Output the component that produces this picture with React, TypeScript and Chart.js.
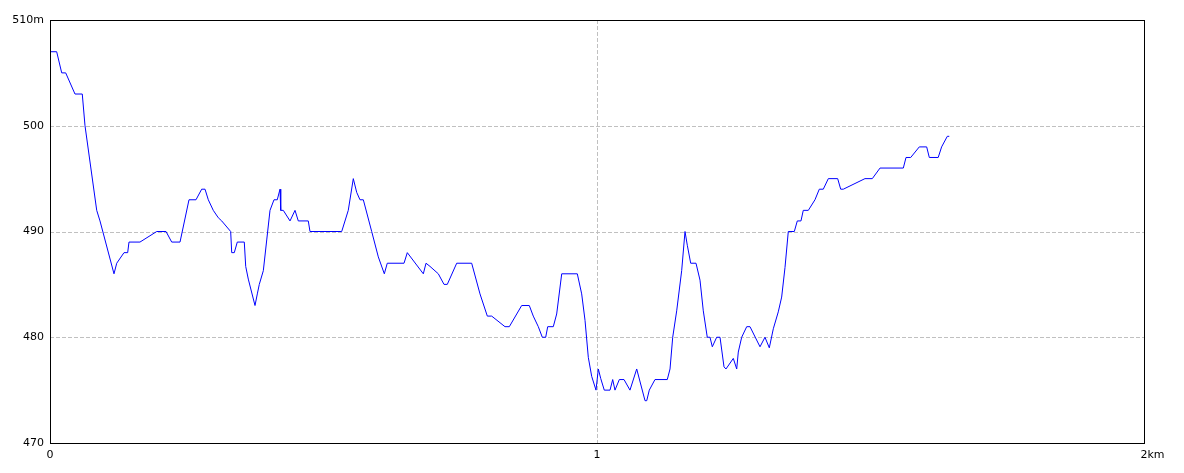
import React, { useEffect, useRef } from "react";
import { Chart, registerables } from "chart.js";

Chart.register(...registerables);

// Distance along the route (km)
const distanceKm: number[] = [
  0, 0.0122, 0.0214, 0.0287, 0.0457, 0.059, 0.064, 0.0854, 0.0914, 0.117,
  0.122, 0.1353, 0.142, 0.1444, 0.1645, 0.1951, 0.2121, 0.2225, 0.2377, 0.2541,
  0.2669, 0.2773, 0.2834, 0.2894, 0.2985, 0.3077, 0.3139, 0.3303, 0.3322, 0.3369,
  0.3424, 0.3552, 0.3578, 0.3625, 0.3748, 0.379, 0.3826, 0.39, 0.3962, 0.4022,
  0.4095, 0.4155, 0.4205, 0.4218, 0.4265, 0.4388, 0.4479, 0.4539, 0.4722, 0.4753,
  0.5333, 0.5453, 0.5545, 0.5607, 0.5667, 0.5728, 0.5881, 0.6002, 0.6112, 0.6166,
  0.6472, 0.6532, 0.6825, 0.6874, 0.6947, 0.7099, 0.7203, 0.7263, 0.7435, 0.7709,
  0.7861, 0.7995, 0.8075, 0.8318, 0.8397, 0.8623, 0.8762, 0.8835, 0.8927, 0.9,
  0.9062, 0.9099, 0.9201, 0.9263, 0.9355, 0.964, 0.972, 0.9781, 0.9841, 0.9903,
  0.9982, 1.0024, 1.0068, 1.0133, 1.0238, 1.0287, 1.0329, 1.0408, 1.0494, 1.0603,
  1.0726, 1.0878, 1.0909, 1.0956, 1.106, 1.1285, 1.1335, 1.1384, 1.1457, 1.1548,
  1.1609, 1.1651, 1.1713, 1.181, 1.1883, 1.1943, 1.2016, 1.2066, 1.2108, 1.2188,
  1.2249, 1.2322, 1.2358, 1.2492, 1.2554, 1.2583, 1.2645, 1.2737, 1.2797, 1.298,
  1.3071, 1.315, 1.3223, 1.3314, 1.3376, 1.3437, 1.3497, 1.3607, 1.3662, 1.3729,
  1.3771, 1.3863, 1.3985, 1.4064, 1.4137, 1.4229, 1.44, 1.4455, 1.4503, 1.4899,
  1.5033, 1.5174, 1.56, 1.5649, 1.5735, 1.5892, 1.6027, 1.6075, 1.6238, 1.63,
  1.6404, 1.644,
];

// Elevation (m)
const elevationM: number[] = [
  507, 507, 505, 505, 503, 503, 500, 492, 491, 486,
  487, 488, 488, 489, 489, 490, 490, 489, 489, 493,
  493, 494, 494, 493, 492, 491.3, 491, 490, 488, 488,
  489, 489, 486.7, 485.5, 483, 484.1, 485, 486.3, 489.2, 492,
  493, 493, 494, 492, 492, 491, 492, 491, 491, 490,
  490, 492, 495, 493.7, 493, 493, 490, 487.6, 486, 487,
  487, 488, 486, 487, 486.7, 486, 485, 485, 487, 487,
  484.1, 482, 482, 481, 481, 483, 483, 482, 481, 480,
  480, 481, 481, 482.2, 486, 486, 484.1, 481.6, 478.1, 476.3,
  475, 477, 476.1, 475, 475, 476, 475, 476, 476, 475,
  477, 474, 474, 475, 476, 476, 477, 480, 482.5, 486.3,
  490, 488.7, 487, 487, 485.4, 482.5, 480, 480, 479.1, 480,
  480, 477.2, 477, 478, 477, 478.6, 480, 481, 481, 479.1,
  480, 479, 480.8, 482.4, 483.8, 486.6, 490, 490, 491, 491,
  492, 492, 493, 494, 494, 495, 495, 494, 494, 495,
  495, 496, 496, 497, 497, 498, 498, 497, 497, 498,
  499, 499,
];

const yTickValues: number[] = [470, 480, 490, 500, 510];
const yTickLabels: string[] = ["470", "480", "490", "500", "510m"];
const xTickValues: number[] = [0, 1, 2];
const xTickNumbers: string[] = ["0", "1", "2"];
const xTickUnits: string[] = ["", "", "km"];

const FONT = '11px "DejaVu Sans", "Noto Sans CJK JP", sans-serif';

const framePlugin = {
  id: "frame",
  beforeDatasetsDraw(chart: any) {
    const { ctx, chartArea, scales } = chart;
    const xs = scales.x;
    const ys = scales.y;
    ctx.save();
    ctx.strokeStyle = "#c0c0c0";
    ctx.lineWidth = 1;
    ctx.setLineDash([4, 2]);
    yTickValues.forEach((v) => {
      if (v === 470 || v === 510) return;
      const y = Math.round(ys.getPixelForValue(v)) + 0.5;
      ctx.beginPath();
      ctx.moveTo(chartArea.left, y);
      ctx.lineTo(chartArea.right, y);
      ctx.stroke();
    });
    xTickValues.forEach((v) => {
      if (v === 0 || v === 2) return;
      const x = Math.round(xs.getPixelForValue(v)) + 0.5;
      ctx.beginPath();
      ctx.moveTo(x, chartArea.top);
      ctx.lineTo(x, chartArea.bottom);
      ctx.stroke();
    });
    ctx.restore();
  },
  afterDraw(chart: any) {
    const { ctx, chartArea, scales } = chart;
    const xs = scales.x;
    const ys = scales.y;
    ctx.save();
    ctx.setLineDash([]);
    ctx.strokeStyle = "#000000";
    ctx.lineWidth = 1;
    ctx.strokeRect(
      chartArea.left + 0.5,
      chartArea.top + 0.5,
      chartArea.right - chartArea.left,
      chartArea.bottom - chartArea.top
    );
    ctx.fillStyle = "#000000";
    ctx.font = FONT;
    ctx.textAlign = "right";
    ctx.textBaseline = "middle";
    yTickValues.forEach((v, i) => {
      const y = ys.getPixelForValue(v);
      ctx.fillText(yTickLabels[i], chartArea.left - 6, y);
    });
    ctx.textAlign = "left";
    ctx.textBaseline = "top";
    xTickValues.forEach((v, i) => {
      const x = xs.getPixelForValue(v);
      const num = xTickNumbers[i];
      const w = ctx.measureText(num).width;
      ctx.fillText(num + xTickUnits[i], x - w / 2, chartArea.bottom + 7);
    });
    ctx.restore();
  },
};

export default function App() {
  const canvasRef = useRef<HTMLCanvasElement | null>(null);

  useEffect(() => {
    if (!canvasRef.current) return;
    const points = distanceKm.map((d, i) => ({ x: d, y: elevationM[i] }));
    const chart = new Chart(canvasRef.current, {
      type: "line",
      data: {
        datasets: [
          {
            data: points,
            borderColor: "#0000ff",
            borderWidth: 1,
            pointRadius: 0,
            tension: 0,
            fill: false,
          },
        ],
      },
      options: {
        animation: false,
        responsive: false,
        maintainAspectRatio: false,
        layout: { padding: { left: 50, right: 40, top: 20, bottom: 30 } },
        plugins: {
          legend: { display: false },
          tooltip: { enabled: false },
          title: { display: false },
        },
        scales: {
          x: { type: "linear", min: 0, max: 2, display: false },
          y: { type: "linear", min: 470, max: 510, display: false },
        },
      },
      plugins: [framePlugin],
    });
    return () => chart.destroy();
  }, []);

  return (
    <div style={{ position: "absolute", left: 0, top: 0, width: 1184, height: 473, background: "#ffffff" }}>
      <canvas ref={canvasRef} width={1184} height={473} style={{ display: "block" }} />
    </div>
  );
}
